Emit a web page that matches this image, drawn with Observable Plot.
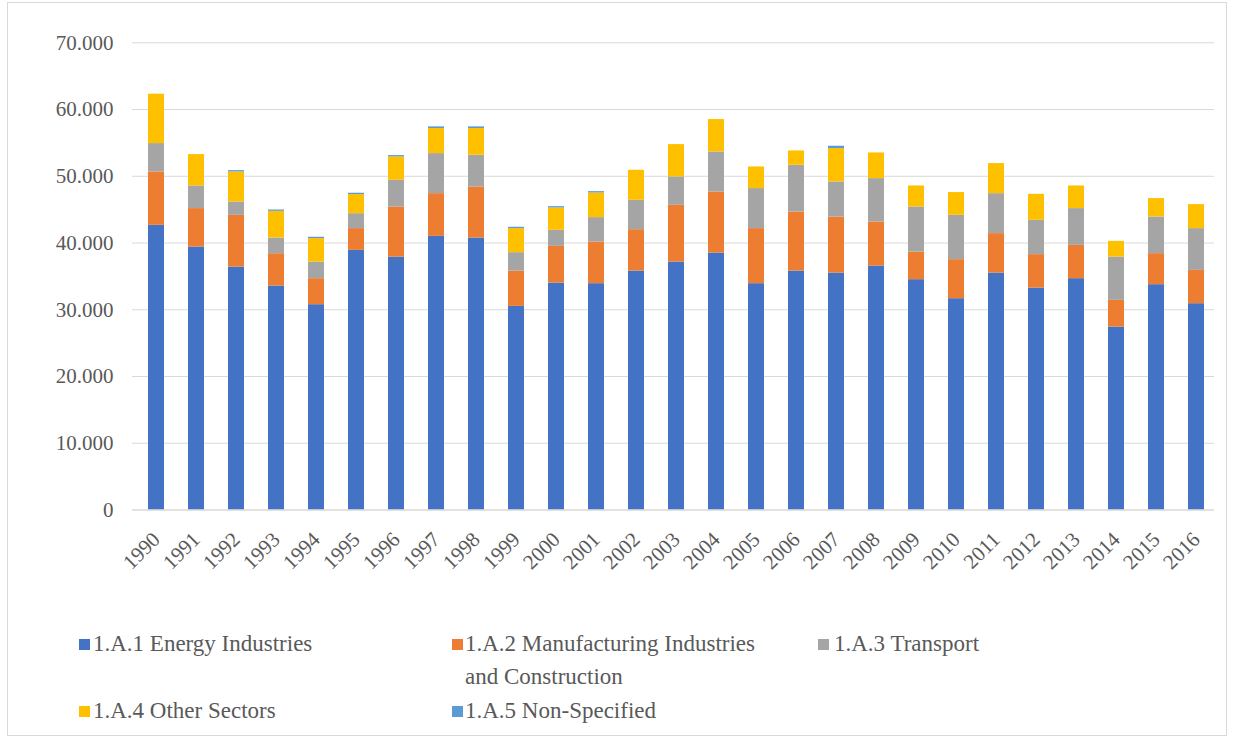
<!DOCTYPE html>
<html>
<head>
<meta charset="utf-8">
<script src="https://cdn.jsdelivr.net/npm/d3@7"></script>
<script src="https://cdn.jsdelivr.net/npm/@observablehq/plot@0.6"></script>
<style>
  html, body { margin: 0; padding: 0; background: #fff; }
  #wrap { position: relative; width: 1234px; height: 748px; overflow: hidden; font-family: "DejaVu Serif", serif; }
  #border { position: absolute; left: 7px; top: 2px; width: 1220px; height: 734px; border: 1px solid #d9d9d9; box-sizing: border-box; }
  #chart { position: absolute; left: 0; top: 0; }
  #chart svg text { font-family: "Liberation Serif", "Times New Roman", Times, "DejaVu Serif", serif !important; }
  .leg { position: absolute; font-size: 23px; color: #595959; line-height: 33px; white-space: nowrap; font-family: "Liberation Serif", "Times New Roman", Times, "DejaVu Serif", serif; }
  .sw { position: absolute; width: 11px; height: 11px; }
</style>
</head>
<body>
<div id="wrap">
  <div id="border"></div>
  <div id="chart"></div>
  <div id="legend"></div>
</div>
<script>
const years = ["1990","1991","1992","1993","1994","1995","1996","1997","1998","1999","2000","2001","2002","2003","2004","2005","2006","2007","2008","2009","2010","2011","2012","2013","2014","2015","2016"];
const seriesNames = ["1.A.1 Energy Industries", "1.A.2 Manufacturing Industries and Construction", "1.A.3 Transport", "1.A.4 Other Sectors", "1.A.5 Non-Specified"];
const seriesColors = ["#4472C4", "#ED7D31", "#A5A5A5", "#FFC000", "#5B9BD5"];
const energy = [42650,39400,36400,33560,30760,38900,37900,41000,40750,30510,34000,33910,35800,37150,38500,33910,35800,35500,36550,34510,31660,35500,33250,34660,27410,33760,30910];
const manufacturing = [8000,5760,7750,4840,3900,3260,7500,6400,7650,5290,5500,6240,6200,8500,9150,8250,8850,8400,6600,4140,5850,5910,5010,4990,4000,4650,4990];
const transport = [4250,3390,2000,2350,2490,2240,4000,6000,4750,2760,2400,3660,4400,4250,6000,6000,7000,5250,6500,6750,6640,5990,5140,5510,6490,5490,6260];
const otherSectors = [7400,4700,4500,4000,3510,2860,3500,3750,4000,3600,3350,3690,4500,4850,4850,3240,2150,5000,3850,3150,3410,4500,3900,3390,2350,2760,3600];
const nonSpecified = [0,0,200,200,200,200,200,250,250,200,200,200,0,0,0,0,0,350,0,0,0,0,0,0,0,0,0];
const yTicks = [0,10000,20000,30000,40000,50000,60000,70000];

const seriesValues = [energy, manufacturing, transport, otherSectors, nonSpecified];
const rows = [];
years.forEach((yr, i) => {
  seriesNames.forEach((s, k) => rows.push({year: yr, series: s, value: seriesValues[k][i]}));
});

const fmt = d3.formatLocale({decimal: ",", thousands: ".", grouping: [3], currency: ["", ""]}).format(",");

const plot = Plot.plot({
  width: 1234,
  height: 600,
  marginLeft: 132,
  marginRight: 20,
  marginTop: 42.3,
  marginBottom: 90.5,
  style: {fontFamily: "serif", fontSize: "21px", color: "#595959", background: "transparent"},
  x: {domain: years, paddingInner: 0.6, paddingOuter: 0.3, insetLeft: 3.5, insetRight: -2, label: null},
  y: {domain: [0, 70000], label: null},
  color: {domain: seriesNames, range: seriesColors},
  marks: [
    Plot.gridY(yTicks, {stroke: "#d9d9d9", strokeOpacity: 1, strokeWidth: 1}),
    Plot.axisY(yTicks, {tickSize: 0, tickPadding: 19, tickFormat: d => d === 0 ? "0" : fmt(d), fontSize: 21, label: null}),
    Plot.barY(rows, Plot.stackY({order: seriesNames}, {x: "year", y: "value", fill: "series"})),
    Plot.ruleY([0], {stroke: "#d9d9d9", strokeWidth: 1}),
    Plot.axisX({tickSize: 0, tickPadding: 26, tickRotate: -45, fontSize: 21, label: null})
  ]
});
document.getElementById("chart").appendChild(plot);

// legend
const legendLayout = [
  {i: 0, sx: 79, tx: 93, cy: 644, lines: ["1.A.1 Energy Industries"]},
  {i: 1, sx: 452, tx: 465, cy: 644, lines: ["1.A.2 Manufacturing Industries", "and Construction"]},
  {i: 2, sx: 818, tx: 834, cy: 644, lines: ["1.A.3 Transport"]},
  {i: 3, sx: 79, tx: 93, cy: 711, lines: ["1.A.4 Other Sectors"]},
  {i: 4, sx: 452, tx: 465, cy: 711, lines: ["1.A.5 Non-Specified"]}
];
const legend = document.getElementById("legend");
legendLayout.forEach(item => {
  const sw = document.createElement("div");
  sw.className = "sw";
  sw.style.left = item.sx + "px";
  sw.style.top = (item.cy - 5.5) + "px";
  sw.style.background = seriesColors[item.i];
  legend.appendChild(sw);
  const t = document.createElement("div");
  t.className = "leg";
  t.style.left = item.tx + "px";
  t.style.top = (item.cy - 17) + "px";
  t.innerHTML = item.lines.join("<br>");
  legend.appendChild(t);
});
</script>
</body>
</html>
